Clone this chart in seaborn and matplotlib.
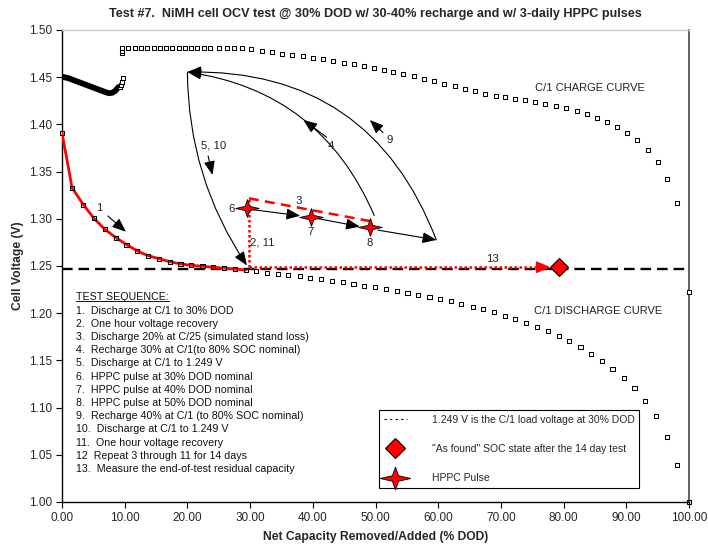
import numpy as np
import pandas as pd
import seaborn as sns
import matplotlib.pyplot as plt
from matplotlib.path import Path
from matplotlib.lines import Line2D

### data ###
# thick black rest curve at the start (overlapping points)
dense_x = [0.0, 1.0, 2.0, 3.0, 4.0, 5.0, 6.0, 7.0, 7.5, 8.0, 8.5, 9.0]
dense_v = [1.4505, 1.449, 1.4465, 1.444, 1.4415, 1.439, 1.4365, 1.434, 1.433, 1.4335, 1.4355, 1.4395]

# C/1 charge curve
chg_x = [9.2, 9.4, 9.5, 9.7, 9.6, 9.6, 9.6, 10.6, 11.6, 12.6, 13.6, 14.6, 15.6, 16.6, 17.6,
         18.6, 19.6, 20.6, 21.6, 22.6, 23.6, 25.0, 26.3, 27.5, 28.7, 30.2, 31.9, 33.5, 35.1,
         36.7, 38.4, 40.0, 41.6, 43.3, 44.9, 46.5, 48.1, 49.7, 51.3, 52.8, 54.4, 56.1, 57.7,
         59.3, 60.9, 62.6, 64.2, 65.8, 67.5, 69.2, 70.7, 72.3, 73.9, 75.5, 77.1, 78.8, 80.4,
         82.1, 83.7, 85.3, 86.9, 88.5, 90.1, 91.7, 93.4, 95.0, 96.5, 98.1, 100.0]
chg_v = [1.440, 1.442, 1.4446, 1.449, 1.476, 1.478, 1.481, 1.481, 1.481, 1.481, 1.481, 1.481,
         1.481, 1.481, 1.481, 1.481, 1.481, 1.481, 1.481, 1.481, 1.481, 1.481, 1.481, 1.481,
         1.481, 1.4795, 1.478, 1.4765, 1.475, 1.4735, 1.472, 1.4705, 1.469, 1.4672, 1.4655,
         1.4637, 1.4618, 1.4598, 1.4577, 1.4555, 1.4532, 1.4508, 1.4483, 1.4458, 1.4432,
         1.4405, 1.4378, 1.435, 1.4325, 1.4305, 1.4287, 1.427, 1.4255, 1.4237, 1.4218,
         1.4196, 1.417, 1.4142, 1.411, 1.4068, 1.4022, 1.397, 1.391, 1.383, 1.373, 1.360,
         1.342, 1.3165, 1.222]

# C/1 discharge curve, step 1 part (red) and the rest
dis_x = [0.0, 1.6, 3.4, 5.1, 6.8, 8.6, 10.3, 12.0, 13.7, 15.5, 17.2, 18.9, 20.6, 22.4, 24.1,
         25.8, 27.6, 29.3]
dis_v = [1.391, 1.333, 1.315, 1.3005, 1.289, 1.280, 1.2726, 1.266, 1.261, 1.2577, 1.2545,
         1.2522, 1.2507, 1.2497, 1.2487, 1.2478, 1.2468, 1.2458]
dis2_x = [31.0, 32.7, 34.5, 36.1, 37.9, 39.6, 41.3, 43.0, 44.8, 46.5, 48.2, 49.9, 51.7, 53.4,
          55.1, 56.8, 58.6, 60.3, 62.0, 63.7, 65.5, 67.1, 68.9, 70.6, 72.3, 74.0, 75.8, 77.5,
          79.2, 80.9, 82.7, 84.4, 86.1, 87.8, 89.6, 91.3, 93.0, 94.7, 96.5, 98.1, 100.0]
dis2_v = [1.2447, 1.2429, 1.2418, 1.2405, 1.2394, 1.237, 1.236, 1.2341, 1.2327, 1.2312,
          1.2291, 1.2274, 1.2256, 1.2235, 1.2217, 1.2196, 1.2172, 1.215, 1.2129, 1.2101,
          1.2069, 1.2041, 1.201, 1.1974, 1.1939, 1.19, 1.1854, 1.1808, 1.1758, 1.1702,
          1.1642, 1.1571, 1.1497, 1.1412, 1.1317, 1.1204, 1.1073, 1.0911, 1.0689, 1.0392, 1.000]

# HPPC pulses (steps 6, 7, 8)
pulse_x = [29.5, 39.7, 49.1]
pulse_v = [1.311, 1.3016, 1.2917]
pulse_lbl = ['6', '7', '8']

# step 3 stand loss, step 2/11 recovery, step 13 residual
loss_x = [29.8, 49.65]
loss_v = [1.3217, 1.2969]
recov_x = [29.8, 29.8]
recov_v = [1.2487, 1.3217]
resid_x = [29.8, 77.0]
resid_v = [1.2487, 1.2487]
found_x = [79.2]
found_v = [1.2486]
load_v = 1.2465

# recharge / discharge loop corners
top_pt = (20.0, 1.4555)
end8_pt = (59.7, 1.2776)
bottom_pt = (29.5, 1.2505)

seq_lines = ["1.  Discharge at C/1 to 30% DOD",
             "2.  One hour voltage recovery",
             "3.  Discharge 20% at C/25 (simulated stand loss)",
             "4.  Recharge 30% at C/1(to 80% SOC nominal)",
             "5.  Discharge at C/1 to 1.249 V",
             "6.  HPPC pulse at 30% DOD nominal",
             "7.  HPPC pulse at 40% DOD nominal",
             "8.  HPPC pulse at 50% DOD nominal",
             "9.  Recharge 40% at C/1 (to 80% SOC nominal)",
             "10.  Discharge at C/1 to 1.249 V",
             "11.  One hour voltage recovery",
             "12  Repeat 3 through 11 for 14 days",
             "13.  Measure the end-of-test residual capacity"]

### style ###
sns.set_style("white")
plt.rcParams['font.family'] = ['Liberation Sans', 'DejaVu Sans']

fig = plt.figure(figsize=(7.08, 5.51), dpi=100)
ax = fig.add_axes([62/708, 49/551, 627/708, 472/551])

# 4-point star marker, wider than tall
star = Path([(1, 0), (0.2, 0.18), (0, 0.75), (-0.2, 0.18), (-1, 0),
             (-0.2, -0.18), (0, -0.75), (0.2, -0.18), (1, 0)], closed=True)

ax.axhline(load_v, color='black', lw=1.7, dashes=(4.5, 2.5), zorder=2)

sns.lineplot(x=dense_x, y=dense_v, color='black', lw=4.2, sort=False, ax=ax, zorder=3)
sns.lineplot(x=dis_x, y=dis_v, color='red', lw=2.0, sort=False, ax=ax, zorder=3)
sns.scatterplot(x=dis_x + dis2_x, y=dis_v + dis2_v, marker='s', s=9, facecolor='none',
                edgecolor='black', linewidth=0.75, ax=ax, zorder=4, clip_on=False)
sns.scatterplot(x=chg_x, y=chg_v, marker='s', s=9, facecolor='white',
                edgecolor='black', linewidth=0.75, ax=ax, zorder=4, clip_on=False)

# red step lines
ax.plot(loss_x, loss_v, color='red', lw=1.8, dashes=(4, 2.5), zorder=3)
ax.plot(recov_x, recov_v, color='red', lw=1.8, ls=(0, (1, 1)), zorder=3)
ax.plot(resid_x, resid_v, color='red', lw=1.8, ls=(0, (1, 1)), zorder=3)
ax.annotate('', xy=(resid_x[1] + 0.9, resid_v[1]), xytext=(resid_x[1] - 0.5, resid_v[1]),
            arrowprops=dict(arrowstyle='-|>,head_length=0.7,head_width=0.3', color='red',
                            lw=1.2, shrinkA=0, shrinkB=0, mutation_scale=12), zorder=5)

# black arrows
black = dict(arrowstyle='-|>,head_length=0.7,head_width=0.28', color='black', lw=0.8,
             shrinkA=0, shrinkB=0, mutation_scale=12)
ax.annotate('', xy=(38.0, 1.3032), xytext=(30.0, 1.310), arrowprops=black)
ax.annotate('', xy=(47.5, 1.2917), xytext=(40.6, 1.3005), arrowprops=black)
ax.annotate('', xy=end8_pt, xytext=(50.4, 1.288), arrowprops=black)
ax.annotate('', xy=top_pt, xytext=end8_pt,
            arrowprops=dict(black, connectionstyle='arc3,rad=0.35'))
ax.annotate('', xy=top_pt, xytext=(49.8, 1.3035),
            arrowprops=dict(black, connectionstyle='arc3,rad=0.28'))
ax.annotate('', xy=bottom_pt, xytext=top_pt,
            arrowprops=dict(black, connectionstyle='arc3,rad=0.15'))
# small direction arrows
ax.annotate('', xy=(10.2, 1.2863), xytext=(7.3, 1.303), arrowprops=black)
ax.annotate('', xy=(24.0, 1.3464), xytext=(23.3, 1.3665), arrowprops=black)
ax.annotate('', xy=(38.5, 1.4047), xytext=(42.2, 1.3864), arrowprops=black)
ax.annotate('', xy=(49.1, 1.4047), xytext=(51.2, 1.3913), arrowprops=black)

ax.plot(pulse_x, pulse_v, ls='none', marker=star, ms=17, mfc='red', mec='black',
        mew=0.6, zorder=6)
ax.plot(found_x, found_v, ls='none', marker='D', ms=9, mfc='red', mec='black',
        mew=0.8, zorder=6)

# step labels
lab = dict(fontsize=8.2, color='#222222', ha='center', va='center')
ax.text(5.9, 1.311, '1', **lab)
ax.text(24.2, 1.3775, '5, 10', **lab)
ax.text(42.9, 1.3775, '4', **lab)
ax.text(52.3, 1.3835, '9', **lab)
ax.text(37.7, 1.319, '3', **lab)
ax.text(31.9, 1.275, '2, 11', **lab)
ax.text(27.1, 1.310, pulse_lbl[0], **lab)
ax.text(39.6, 1.2855, pulse_lbl[1], **lab)
ax.text(49.1, 1.274, pulse_lbl[2], **lab)
ax.text(68.7, 1.2571, '13', **lab)
ax.text(75.4, 1.4386, 'C/1 CHARGE CURVE', fontsize=8, color='#222222', va='center')
ax.text(75.3, 1.2023, 'C/1 DISCHARGE CURVE', fontsize=8, color='#222222', va='center')

# test sequence block
head = ax.text(2.2, 1.2175, 'TEST SEQUENCE:', fontsize=7.7, va='center', color='#111111')
for i, line in enumerate(seq_lines):
    ax.text(2.2, 1.2027 - i * 0.01398, line, fontsize=7.7, va='center', color='#111111')

# legend
h_dash = Line2D([], [], color='black', lw=0.8, ls=(0, (2, 3)))
h_dia = Line2D([], [], ls='none', marker='D', ms=10, mfc='red', mec='black', mew=0.8)
h_star = Line2D([], [], ls='none', marker=star, ms=22, mfc='red', mec='black', mew=0.6)
leg = ax.legend([h_dash, h_dia, h_star],
                ['1.249 V is the C/1 load voltage at 30% DOD',
                 '"As found" SOC state after the 14 day test',
                 'HPPC Pulse'],
                loc='upper left', bbox_to_anchor=(0.506, 0.195), fontsize=7.5,
                frameon=True, fancybox=False, edgecolor='black', framealpha=1,
                handlelength=2.2, handletextpad=2.4, labelspacing=1.85,
                borderpad=0.45, borderaxespad=0)
leg.get_frame().set_linewidth(0.8)

ax.set_xlim(0, 100)
ax.set_ylim(1.0, 1.5)
ax.set_xticks(np.arange(0, 101, 10))
ax.set_yticks(np.arange(1.0, 1.501, 0.05))
ax.xaxis.set_major_formatter(plt.FormatStrFormatter('%.2f'))
ax.yaxis.set_major_formatter(plt.FormatStrFormatter('%.2f'))
ax.tick_params(axis='both', which='major', labelsize=8.5, bottom=True, left=True,
               direction='out', length=4, width=0.8, color='black', pad=3)
for s in ['left', 'bottom']:
    ax.spines[s].set_color('black')
    ax.spines[s].set_linewidth(1.0)
ax.spines['top'].set_color('#c8c8c8')
ax.spines['top'].set_linewidth(1.0)
ax.spines['right'].set_color('#555555')
ax.spines['right'].set_linewidth(1.3)

ax.set_xlabel('Net Capacity Removed/Added (% DOD)', fontsize=8.7, fontweight='bold', labelpad=5)
ax.set_ylabel('Cell Voltage (V)', fontsize=8.7, fontweight='bold', labelpad=4)
ax.set_title('Test #7.  NiMH cell OCV test @ 30% DOD w/ 30-40% recharge and w/ 3-daily HPPC pulses',
             fontsize=9.1, fontweight='bold', pad=9)

# underline the sequence heading
fig.canvas.draw()
bb = head.get_window_extent(fig.canvas.get_renderer())
(x0, y0), (x1, y1) = ax.transAxes.inverted().transform([[bb.x0, bb.y0], [bb.x1, bb.y0]])
ax.plot([x0, x1], [y0 + 0.002, y1 + 0.002], color='#111111', lw=0.7, transform=ax.transAxes)

fig.savefig('out.png', dpi=100)
